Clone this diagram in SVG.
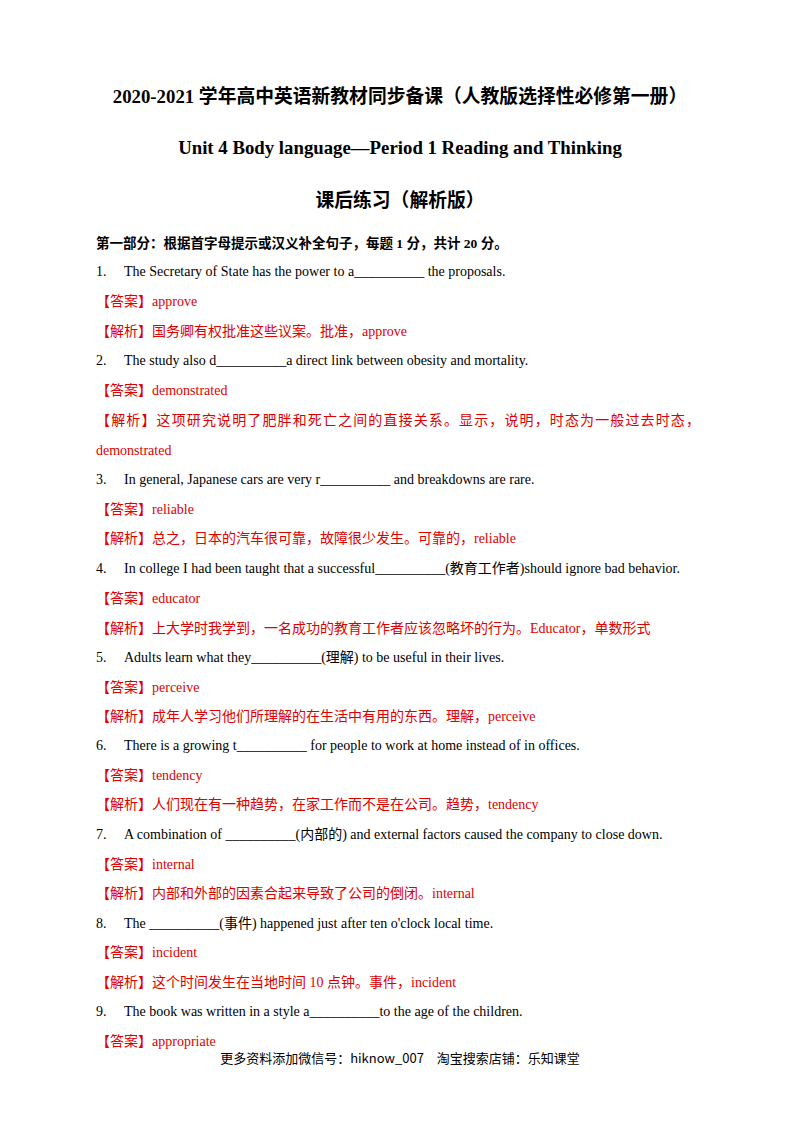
<svg xmlns="http://www.w3.org/2000/svg" width="800" height="1132" viewBox="0 0 800 1132">
<style>
text{font-family:"Liberation Serif","Noto Sans CJK SC",serif;font-size:14px;fill:#000}
.h{font-weight:bold;text-anchor:middle;font-size:18.8px}
.r{fill:#e00000}
.s{font-weight:bold;font-size:13.5px}
.f{font-family:"Noto Sans CJK SC",sans-serif;font-size:13px;text-anchor:middle}
</style>
<rect width="800" height="1132" fill="#fff"/>
<text class="h" x="400" y="103">2020-2021 学年高中英语新教材同步备课（人教版选择性必修第一册）</text>
<text class="h" x="400" y="154">Unit 4 Body language—Period 1 Reading and Thinking</text>
<text class="h" x="400" y="207">课后练习（解析版）</text>
<text class="s" x="96" y="248">第一部分：根据首字母提示或汉义补全句子，每题 1 分，共计 20 分。</text>
<g>
<text x="96" y="276">1.</text><text x="124" y="276">The Secretary of State has the power to a__________ the proposals.</text>
<text class="r" x="96" y="306">【答案】approve</text>
<text class="r" x="96" y="336">【解析】国务卿有权批准这些议案。批准，approve</text>
<text x="96" y="365">2.</text><text x="124" y="365">The study also d__________a direct link between obesity and mortality.</text>
<text class="r" x="96" y="395">【答案】demonstrated</text>
<text class="r" x="96" y="425" textLength="604" lengthAdjust="spacing">【解析】这项研究说明了肥胖和死亡之间的直接关系。显示，说明，时态为一般过去时态，</text>
<text class="r" x="96" y="455">demonstrated</text>
<text x="96" y="484">3.</text><text x="124" y="484">In general, Japanese cars are very r__________ and breakdowns are rare.</text>
<text class="r" x="96" y="514">【答案】reliable</text>
<text class="r" x="96" y="543">【解析】总之，日本的汽车很可靠，故障很少发生。可靠的，reliable</text>
<text x="96" y="573">4.</text><text x="124" y="573">In college I had been taught that a successful__________(教育工作者)should ignore bad behavior.</text>
<text class="r" x="96" y="603">【答案】educator</text>
<text class="r" x="96" y="633">【解析】上大学时我学到，一名成功的教育工作者应该忽略坏的行为。Educator，单数形式</text>
<text x="96" y="662">5.</text><text x="124" y="662">Adults learn what they__________(理解) to be useful in their lives.</text>
<text class="r" x="96" y="692">【答案】perceive</text>
<text class="r" x="96" y="721">【解析】成年人学习他们所理解的在生活中有用的东西。理解，perceive</text>
<text x="96" y="750">6.</text><text x="124" y="750">There is a growing t__________ for people to work at home instead of in offices.</text>
<text class="r" x="96" y="780">【答案】tendency</text>
<text class="r" x="96" y="809">【解析】人们现在有一种趋势，在家工作而不是在公司。趋势，tendency</text>
<text x="96" y="839">7.</text><text x="124" y="839">A combination of __________(内部的) and external factors caused the company to close down.</text>
<text class="r" x="96" y="869">【答案】internal</text>
<text class="r" x="96" y="898">【解析】内部和外部的因素合起来导致了公司的倒闭。internal</text>
<text x="96" y="928">8.</text><text x="124" y="928">The __________(事件) happened just after ten o'clock local time.</text>
<text class="r" x="96" y="957">【答案】incident</text>
<text class="r" x="96" y="987">【解析】这个时间发生在当地时间 10 点钟。事件，incident</text>
<text x="96" y="1016">9.</text><text x="124" y="1016">The book was written in a style a__________to the age of the children.</text>
<text class="r" x="96" y="1046">【答案】appropriate</text>
</g>
<text class="f" x="400" y="1063">更多资料添加微信号：hiknow_007　淘宝搜索店铺：乐知课堂</text>
</svg>
